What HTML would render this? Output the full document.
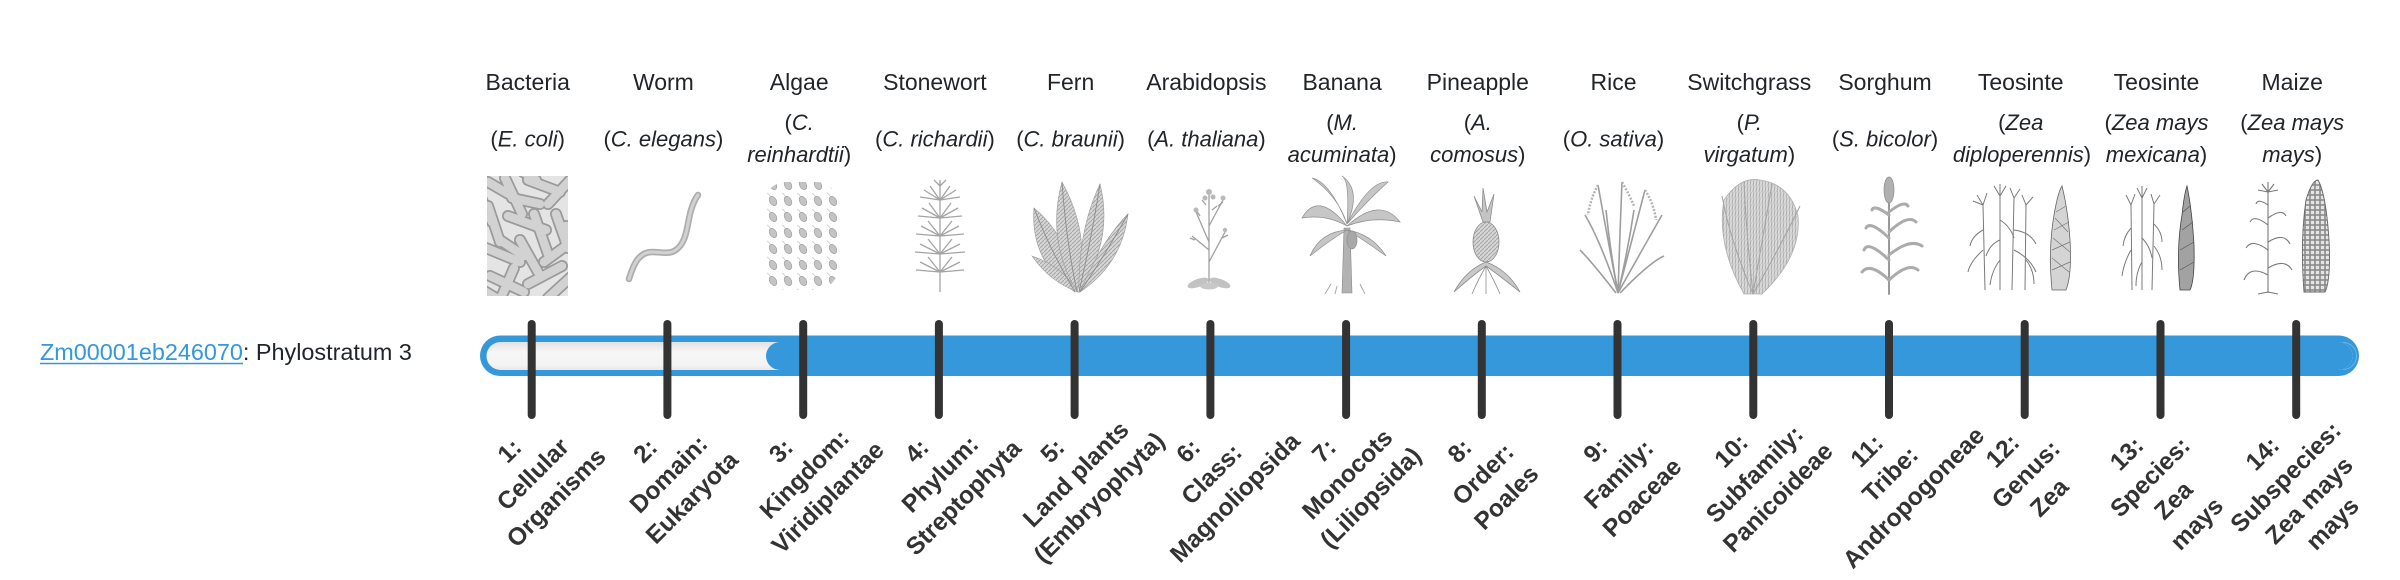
<!DOCTYPE html>
<html>
<head>
<meta charset="utf-8">
<style>
html,body{margin:0;padding:0;background:#fff;}
body{width:2400px;height:580px;overflow:hidden;}
svg{display:block;}
</style>
</head>
<body>
<svg width="2400" height="580" viewBox="0 0 2400 580" xmlns="http://www.w3.org/2000/svg" font-family="'Liberation Sans', Arial, sans-serif">
<defs>
  <linearGradient id="trk" x1="0" y1="0" x2="0" y2="1">
    <stop offset="0" stop-color="#e2e2e2"/>
    <stop offset=".35" stop-color="#f6f6f6"/>
    <stop offset=".8" stop-color="#f4f4f4"/>
    <stop offset="1" stop-color="#e8e8e8"/>
  </linearGradient>
  <pattern id="alg" width="15" height="16" patternUnits="userSpaceOnUse">
    <path d="M2 1 q5 3 3 7" stroke="#c4c4c4" fill="none" stroke-width=".7"/>
    <ellipse cx="8" cy="9" rx="3.3" ry="5" transform="rotate(-30 8 9)" fill="#c4c4c4" stroke="#a0a0a0" stroke-width=".7"/>
  </pattern>
  <pattern id="hatch" width="4" height="4" patternUnits="userSpaceOnUse">
    <rect width="4" height="4" fill="#d6d6d6"/>
    <path d="M0 4 L4 0" stroke="#a6a6a6" stroke-width="1"/>
  </pattern>
  <pattern id="grass" width="3" height="6" patternUnits="userSpaceOnUse">
    <rect width="3" height="6" fill="#dadada"/>
    <path d="M1 6 L2 0" stroke="#a9a9a9" stroke-width=".9"/>
  </pattern>
  <pattern id="kern" width="5" height="5" patternUnits="userSpaceOnUse">
    <rect width="5" height="5" fill="#e4e4e4"/>
    <rect x=".4" y=".4" width="4.2" height="4.2" fill="none" stroke="#8a8a8a" stroke-width=".8"/>
  </pattern>
  <clipPath id="bc"><rect x="487" y="176" width="81" height="120"/></clipPath>
  <g id="rods">
    <path d="M488 182 L512 196 M505 178 L522 214 M528 180 L560 192 M548 204 L572 178 M488 206 L500 242 M508 216 L546 230 M534 214 L548 254 M556 214 L568 248 M486 248 L520 262 M520 240 L538 272 M544 262 L574 240 M490 276 L524 292 M528 284 L562 266 M548 298 L572 276 M500 300 L514 268 M512 198 L540 204 M492 222 L482 200 M524 256 L500 240 M566 226 L578 260 M476 286 L496 298 M536 180 L520 170"/>
  </g>
</defs>

<!-- top labels -->
<g font-size="23" fill="#212529" text-anchor="middle">
  <text x="527.7" y="90">Bacteria</text>
  <text x="663.4" y="90">Worm</text>
  <text x="799.2" y="90">Algae</text>
  <text x="934.9" y="90">Stonewort</text>
  <text x="1070.6" y="90">Fern</text>
  <text x="1206.4" y="90">Arabidopsis</text>
  <text x="1342.1" y="90">Banana</text>
  <text x="1477.8" y="90">Pineapple</text>
  <text x="1613.5" y="90">Rice</text>
  <text x="1749.3" y="90">Switchgrass</text>
  <text x="1885.0" y="90">Sorghum</text>
  <text x="2020.7" y="90">Teosinte</text>
  <text x="2156.5" y="90">Teosinte</text>
  <text x="2292.2" y="90">Maize</text>
</g>

<!-- italic species -->
<g font-size="22" fill="#212529" text-anchor="middle">
  <text x="527.7" y="146.7">(<tspan font-style="italic">E. coli</tspan>)</text>
  <text x="663.4" y="146.7">(<tspan font-style="italic">C. elegans</tspan>)</text>
  <text x="799.2" y="130">(<tspan font-style="italic">C.</tspan></text>
  <text x="799.2" y="162"><tspan font-style="italic">reinhardtii</tspan>)</text>
  <text x="934.9" y="146.7">(<tspan font-style="italic">C. richardii</tspan>)</text>
  <text x="1070.6" y="146.7">(<tspan font-style="italic">C. braunii</tspan>)</text>
  <text x="1206.4" y="146.7">(<tspan font-style="italic">A. thaliana</tspan>)</text>
  <text x="1342.1" y="130">(<tspan font-style="italic">M.</tspan></text>
  <text x="1342.1" y="162"><tspan font-style="italic">acuminata</tspan>)</text>
  <text x="1477.8" y="130">(<tspan font-style="italic">A.</tspan></text>
  <text x="1477.8" y="162"><tspan font-style="italic">comosus</tspan>)</text>
  <text x="1613.5" y="146.7">(<tspan font-style="italic">O. sativa</tspan>)</text>
  <text x="1749.3" y="130">(<tspan font-style="italic">P.</tspan></text>
  <text x="1749.3" y="162"><tspan font-style="italic">virgatum</tspan>)</text>
  <text x="1885.0" y="146.7">(<tspan font-style="italic">S. bicolor</tspan>)</text>
  <text x="2020.7" y="130">(<tspan font-style="italic">Zea</tspan></text>
  <text x="2022" y="162"><tspan font-style="italic">diploperennis</tspan>)</text>
  <text x="2156.5" y="130">(<tspan font-style="italic">Zea mays</tspan></text>
  <text x="2156.5" y="162"><tspan font-style="italic">mexicana</tspan>)</text>
  <text x="2292.2" y="130">(<tspan font-style="italic">Zea mays</tspan></text>
  <text x="2292.2" y="162"><tspan font-style="italic">mays</tspan>)</text>
</g>

<!-- illustrations -->
<!-- bacteria -->
<g clip-path="url(#bc)">
  <rect x="487" y="176" width="81" height="120" fill="#e4e4e4"/>
  <use href="#rods" stroke="#9a9a9a" stroke-width="12" stroke-linecap="round" fill="none"/>
  <use href="#rods" stroke="#d2d2d2" stroke-width="8.5" stroke-linecap="round" fill="none"/>
</g>
<!-- worm -->
<path d="M629 279 C634 262 640 252 652 252 C664 252 672 256 680 246 C690 234 686 212 698 195" stroke="#aeaeae" stroke-width="6.5" fill="none" stroke-linecap="round"/>
<path d="M629 279 C634 262 640 252 652 252 C664 252 672 256 680 246 C690 234 686 212 698 195" stroke="#d2d2d2" stroke-width="3" fill="none" stroke-linecap="round"/>
<!-- algae -->
<rect x="764" y="182" width="74" height="108" rx="22" fill="url(#alg)"/>
<!-- stonewort -->
<g stroke="#a4a4a4" stroke-width="1.3" fill="none">
  <path d="M940 292 L940 182"/>
  <path d="M940 200 l-16 -10 M940 200 l16 -10 M940 200 l-10 -14 M940 200 l10 -14 M940 200 l-20 -3 M940 200 l20 -3"/>
  <path d="M940 218 l-18 -10 M940 218 l18 -10 M940 218 l-11 -15 M940 218 l11 -15 M940 218 l-22 -2 M940 218 l22 -2"/>
  <path d="M940 236 l-19 -10 M940 236 l19 -10 M940 236 l-12 -15 M940 236 l12 -15 M940 236 l-24 -2 M940 236 l24 -2"/>
  <path d="M940 254 l-20 -10 M940 254 l20 -10 M940 254 l-12 -15 M940 254 l12 -15 M940 254 l-25 -2 M940 254 l25 -2"/>
  <path d="M940 272 l-20 -10 M940 272 l20 -10 M940 272 l-12 -15 M940 272 l12 -15 M940 272 l-24 -2 M940 272 l24 -2"/>
  <path d="M940 186 l-6 -6 M940 186 l6 -6 M940 186 l0 -6"/>
</g>
<!-- fern -->
<g fill="url(#hatch)" stroke="#9a9a9a" stroke-width=".6">
  <path d="M1075 292 Q1030 262 1034 208 Q1072 240 1075 292Z"/>
  <path d="M1077 292 Q1046 240 1062 182 Q1092 236 1077 292Z"/>
  <path d="M1079 292 Q1078 230 1100 184 Q1114 240 1079 292Z"/>
  <path d="M1080 292 Q1102 240 1128 214 Q1122 264 1080 292Z"/>
  <path d="M1078 292 Q1050 282 1032 256 Q1062 266 1078 292Z"/>
</g>
<g stroke="#8c8c8c" stroke-width=".9" fill="none">
  <path d="M1075 292 Q1050 250 1034 208 M1077 292 Q1066 240 1062 182 M1079 292 Q1092 236 1100 184 M1080 292 Q1108 250 1128 214"/>
</g>
<!-- arabidopsis -->
<g stroke="#a0a0a0" fill="none" stroke-width="1.3">
  <path d="M1209 285 L1209 195 M1209 242 L1196 212 M1209 226 L1223 200 M1209 262 L1225 232 M1209 250 L1192 236"/>
  <path d="M1200 216 l-4 -6 M1218 206 l5 -4 M1222 238 l6 -3 M1195 240 l-5 -2 M1206 205 l-4 -5 M1212 210 l5 -4"/>
</g>
<g fill="#b8b8b8">
  <circle cx="1209" cy="192" r="3"/><circle cx="1205" cy="198" r="2.5"/><circle cx="1213" cy="197" r="2.5"/>
  <circle cx="1196" cy="210" r="2.5"/><circle cx="1223" cy="198" r="2.5"/><circle cx="1225" cy="230" r="2.2"/>
  <ellipse cx="1198" cy="283" rx="11" ry="4" transform="rotate(-20 1198 283)" fill="#c2c2c2"/>
  <ellipse cx="1220" cy="283" rx="11" ry="4" transform="rotate(20 1220 283)" fill="#c2c2c2"/>
  <ellipse cx="1209" cy="286" rx="9" ry="3.5" fill="#c8c8c8"/>
</g>
<!-- banana -->
<path d="M1342 293 L1344 228 L1350 228 L1352 293Z" fill="#b2b2b2" stroke="#8a8a8a" stroke-width=".6"/>
<g fill="#c6c6c6" stroke="#8f8f8f" stroke-width=".7">
  <path d="M1347 226 Q1318 190 1302 218 Q1326 214 1347 226Z"/>
  <path d="M1347 224 Q1330 182 1312 178 Q1338 196 1347 224Z"/>
  <path d="M1347 224 Q1350 180 1342 176 Q1362 190 1347 224Z"/>
  <path d="M1347 224 Q1370 180 1388 182 Q1368 200 1347 224Z"/>
  <path d="M1347 226 Q1380 196 1400 222 Q1372 216 1347 226Z"/>
  <path d="M1347 230 Q1320 232 1310 256 Q1330 240 1347 230Z"/>
  <path d="M1347 230 Q1372 234 1386 256 Q1364 240 1347 230Z"/>
  <ellipse cx="1352" cy="240" rx="5" ry="9" fill="#a8a8a8"/>
</g>
<path d="M1325 294 l6 -10 M1365 294 l-5 -10 M1335 294 l2 -8" stroke="#aaa" stroke-width="1"/>
<!-- pineapple -->
<g stroke="#8e8e8e" stroke-width=".8">
  <path d="M1483 222 L1474 196 L1482 212 L1483 188 L1487 212 L1494 194 L1490 222Z" fill="#c4c4c4"/>
  <ellipse cx="1486" cy="242" rx="13" ry="20" fill="url(#hatch)"/>
  <path d="M1486 262 Q1466 270 1454 292 Q1472 276 1486 266 Q1500 276 1520 292 Q1508 270 1486 262Z" fill="#c8c8c8"/>
  <path d="M1486 266 Q1478 280 1472 294 M1486 266 Q1494 280 1500 294 M1486 266 L1486 294" fill="none"/>
</g>
<!-- rice -->
<g stroke="#9e9e9e" stroke-width="1.6" fill="none">
  <path d="M1618 293 Q1600 240 1585 215"/>
  <path d="M1618 293 Q1606 230 1598 185"/>
  <path d="M1618 293 Q1620 230 1622 182"/>
  <path d="M1618 293 Q1632 240 1645 190"/>
  <path d="M1618 293 Q1642 250 1662 215"/>
  <path d="M1616 293 Q1592 262 1580 250"/>
  <path d="M1620 293 Q1650 262 1664 256"/>
  <path d="M1618 293 Q1610 250 1606 210"/>
  <path d="M1618 293 Q1628 250 1634 210"/>
  <path d="M1598 185 Q1590 200 1588 215 M1622 182 Q1630 196 1634 206 M1645 190 Q1654 204 1656 220" stroke="#b4b4b4" stroke-width="2.5" stroke-dasharray="2 1.5"/>
</g>
<!-- switchgrass -->
<path d="M1744 294 Q1716 244 1724 200 Q1740 176 1760 180 Q1790 184 1798 216 Q1802 256 1762 294Z" fill="url(#grass)" stroke="#b0b0b0" stroke-width=".8"/>
<g stroke="#a4a4a4" stroke-width="1" fill="none">
  <path d="M1753 294 Q1730 240 1722 196 M1753 294 Q1746 230 1744 182 M1753 294 Q1764 230 1772 184 M1753 294 Q1784 240 1800 206"/>
</g>
<!-- sorghum -->
<g stroke="#ababab" stroke-width="3" fill="none" stroke-linecap="round">
  <path d="M1889 294 L1889 198" stroke="#999" stroke-width="2"/>
  <path d="M1889 280 Q1870 262 1862 272 M1889 280 Q1908 262 1918 270 M1889 260 Q1868 240 1864 250 M1889 255 Q1910 238 1922 246 M1889 238 Q1870 220 1866 228 M1889 232 Q1908 214 1916 222 M1889 215 Q1874 204 1872 210 M1889 212 Q1904 200 1908 206"/>
</g>
<ellipse cx="1889" cy="190" rx="5" ry="13" fill="#b0b0b0" stroke="#8a8a8a" stroke-width=".7"/>
<!-- teosinte 12 -->
<g stroke="#7a7a7a" stroke-width="1" fill="none">
  <path d="M1985 290 L1983 205 M2000 290 L2000 196 M2012 290 L2014 198 M2025 290 L2026 205"/>
  <path d="M1983 250 Q1970 262 1968 272 M1983 230 Q1972 236 1970 246 M2000 260 Q1992 270 1990 285 M2000 240 Q1990 244 1986 256 M2014 250 Q2030 258 2036 272 M2014 230 Q2030 232 2036 244 M2026 260 Q2034 270 2034 284 M2000 220 Q2010 226 2014 238"/>
  <path d="M1983 205 l-6 -10 M1983 205 l4 -12 M1983 205 l-10 -4 M2000 196 l-6 -10 M2000 196 l6 -10 M2000 196 l0 -12 M2014 198 l-4 -10 M2014 198 l6 -9 M2026 205 l-4 -10 M2026 205 l7 -8"/>
</g>
<path d="M2052 290 Q2048 250 2054 215 Q2058 192 2062 186 Q2068 210 2070 240 Q2072 275 2066 290Z" fill="#d4d4d4" stroke="#666" stroke-width=".8"/>
<path d="M2052 270 L2070 262 M2052 250 L2070 242 M2054 230 L2069 222 M2056 212 L2066 206 M2052 258 L2069 272 M2053 238 L2070 252 M2055 218 L2068 232" stroke="#777" stroke-width=".7" fill="none"/>
<!-- teosinte 13 -->
<g stroke="#7a7a7a" stroke-width="1" fill="none">
  <path d="M2132 290 L2131 205 M2142 290 L2142 198 M2152 290 L2154 204"/>
  <path d="M2131 250 Q2124 262 2122 276 M2131 228 Q2124 236 2123 246 M2142 262 Q2136 272 2136 286 M2142 238 Q2150 246 2152 258 M2154 246 Q2162 256 2162 270 M2154 224 Q2162 232 2162 242"/>
  <path d="M2131 205 l-5 -10 M2131 205 l4 -11 M2142 198 l-5 -10 M2142 198 l5 -10 M2142 198 l0 -12 M2154 204 l-3 -10 M2154 204 l6 -9"/>
</g>
<path d="M2180 290 Q2176 250 2182 215 Q2184 195 2187 186 Q2192 210 2194 245 Q2195 280 2190 290Z" fill="#a2a2a2" stroke="#444" stroke-width=".8"/>
<path d="M2180 270 L2194 262 M2180 250 L2194 242 M2182 230 L2193 222 M2183 212 L2190 206" stroke="#555" stroke-width=".7" fill="none"/>
<!-- maize 14 -->
<g stroke="#7a7a7a" stroke-width="1.1" fill="none">
  <path d="M2268 293 L2268 192"/>
  <path d="M2268 275 Q2250 265 2244 280 M2268 268 Q2285 258 2292 270 M2268 250 Q2252 238 2246 248 M2268 242 Q2284 232 2290 244 M2268 225 Q2254 214 2250 222 M2268 218 Q2282 208 2286 216 M2268 205 Q2258 198 2256 204 M2268 292 l-10 2 M2268 292 l10 2"/>
  <path d="M2268 192 l-6 -8 M2268 192 l6 -8 M2268 192 l0 -10 M2268 192 l-10 -2 M2268 192 l10 -2"/>
</g>
<path d="M2304 292 Q2300 240 2306 200 Q2312 180 2318 180 Q2326 194 2329 240 Q2331 280 2325 292Z" fill="url(#kern)" stroke="#666" stroke-width=".9"/>

<!-- bar -->
<rect x="480" y="335.5" width="1879" height="40.5" rx="20.25" fill="#3498db"/>
<rect x="486.5" y="342" width="1866" height="28" rx="14" fill="url(#trk)"/>
<rect x="766" y="342" width="1586.5" height="28" rx="14" fill="#3498db"/>
<path d="M2343 342.5 A13.5 13.5 0 0 1 2343 369.5" stroke="#7fc0ea" stroke-width="1" fill="none" opacity=".7"/>

<!-- ticks -->
<g stroke="#333" stroke-width="8" stroke-linecap="round">
  <line x1="531.7" y1="324" x2="531.7" y2="415"/>
  <line x1="667.4" y1="324" x2="667.4" y2="415"/>
  <line x1="803.2" y1="324" x2="803.2" y2="415"/>
  <line x1="938.9" y1="324" x2="938.9" y2="415"/>
  <line x1="1074.6" y1="324" x2="1074.6" y2="415"/>
  <line x1="1210.4" y1="324" x2="1210.4" y2="415"/>
  <line x1="1346.1" y1="324" x2="1346.1" y2="415"/>
  <line x1="1481.8" y1="324" x2="1481.8" y2="415"/>
  <line x1="1617.5" y1="324" x2="1617.5" y2="415"/>
  <line x1="1753.3" y1="324" x2="1753.3" y2="415"/>
  <line x1="1889.0" y1="324" x2="1889.0" y2="415"/>
  <line x1="2024.7" y1="324" x2="2024.7" y2="415"/>
  <line x1="2160.5" y1="324" x2="2160.5" y2="415"/>
  <line x1="2296.2" y1="324" x2="2296.2" y2="415"/>
</g>

<!-- left label -->
<text x="40" y="360" font-size="23.4"><tspan fill="#3498db">Zm00001eb246070</tspan><tspan fill="#212529">: Phylostratum 3</tspan></text>
<line x1="40" y1="363.5" x2="243" y2="363.5" stroke="#3498db" stroke-width="1.6"/>

<!-- bottom rotated labels -->
<g font-size="24.5" font-weight="bold" fill="#333" text-anchor="middle">
  <text transform="translate(532.7,474) rotate(-45)"><tspan x="0" y="-24.5">1:</tspan><tspan x="0" y="8.5">Cellular</tspan><tspan x="0" y="41.5">Organisms</tspan></text>
  <text transform="translate(668.4,474) rotate(-45)"><tspan x="0" y="-24.5">2:</tspan><tspan x="0" y="8.5">Domain:</tspan><tspan x="0" y="41.5">Eukaryota</tspan></text>
  <text transform="translate(804.2,474) rotate(-45)"><tspan x="0" y="-24.5">3:</tspan><tspan x="0" y="8.5">Kingdom:</tspan><tspan x="0" y="41.5">Viridiplantae</tspan></text>
  <text transform="translate(939.9,474) rotate(-45)"><tspan x="0" y="-24.5">4:</tspan><tspan x="0" y="8.5">Phylum:</tspan><tspan x="0" y="41.5">Streptophyta</tspan></text>
  <text transform="translate(1075.6,474) rotate(-45)"><tspan x="0" y="-24.5">5:</tspan><tspan x="0" y="8.5">Land plants</tspan><tspan x="0" y="41.5">(Embryophyta)</tspan></text>
  <text transform="translate(1211.4,474) rotate(-45)"><tspan x="0" y="-24.5">6:</tspan><tspan x="0" y="8.5">Class:</tspan><tspan x="0" y="41.5">Magnoliopsida</tspan></text>
  <text transform="translate(1347.1,474) rotate(-45)"><tspan x="0" y="-24.5">7:</tspan><tspan x="0" y="8.5">Monocots</tspan><tspan x="0" y="41.5">(Liliopsida)</tspan></text>
  <text transform="translate(1482.8,474) rotate(-45)"><tspan x="0" y="-24.5">8:</tspan><tspan x="0" y="8.5">Order:</tspan><tspan x="0" y="41.5">Poales</tspan></text>
  <text transform="translate(1618.5,474) rotate(-45)"><tspan x="0" y="-24.5">9:</tspan><tspan x="0" y="8.5">Family:</tspan><tspan x="0" y="41.5">Poaceae</tspan></text>
  <text transform="translate(1754.3,474) rotate(-45)"><tspan x="0" y="-24.5">10:</tspan><tspan x="0" y="8.5">Subfamily:</tspan><tspan x="0" y="41.5">Panicoideae</tspan></text>
  <text transform="translate(1890.0,474) rotate(-45)"><tspan x="0" y="-24.5">11:</tspan><tspan x="0" y="8.5">Tribe:</tspan><tspan x="0" y="41.5">Andropogoneae</tspan></text>
  <text transform="translate(2025.7,474) rotate(-45)"><tspan x="0" y="-24.5">12:</tspan><tspan x="0" y="8.5">Genus:</tspan><tspan x="0" y="41.5">Zea</tspan></text>
  <text transform="translate(2161.5,488.5) rotate(-45)"><tspan x="0" y="-41">13:</tspan><tspan x="0" y="-8">Species:</tspan><tspan x="0" y="25">Zea</tspan><tspan x="0" y="58">mays</tspan></text>
  <text transform="translate(2297.2,488.5) rotate(-45)"><tspan x="0" y="-41">14:</tspan><tspan x="0" y="-8">Subspecies:</tspan><tspan x="0" y="25">Zea mays</tspan><tspan x="0" y="58">mays</tspan></text>
</g>
</svg>
</body>
</html>
